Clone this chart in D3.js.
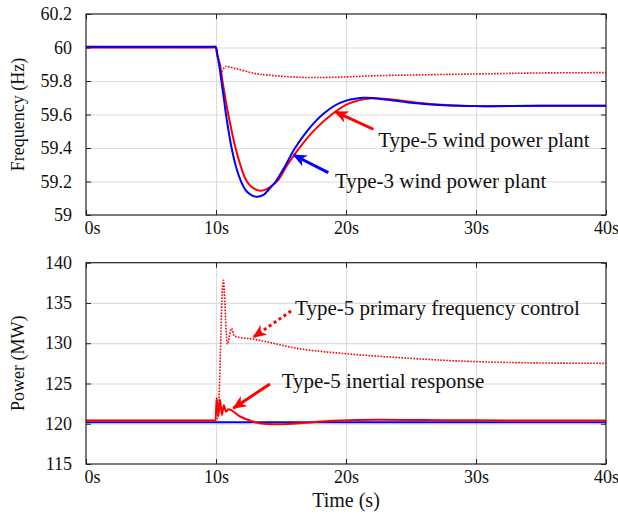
<!DOCTYPE html>
<html>
<head>
<meta charset="utf-8">
<script src="https://cdn.jsdelivr.net/npm/d3@7"></script>
<style>
body{margin:0;background:#fff;}
svg{display:block;}
svg text{font-family:"Liberation Serif","Times New Roman",serif !important;fill:#111;}
.grid line{stroke:#dcdcdc;stroke-width:1.2;}
.grid path{display:none;}
.tick text{font-size:18px;}
</style>
</head>
<body>
<div id="chart"></div>
<script>
// ------- DATA (time in s) -------
let timeTicks=[0,10,20,30,40];
let freqTicks=[59,59.2,59.4,59.6,59.8,60,60.2];
let powerTicks=[115,120,125,130,135,140];

// frequency, Hz
let freqType3=[[0,60.005],[3,60.005],[6,60.005],[9,60.005],[9.8,60.005],[9.97,60.005],[10.1,59.96],[10.2,59.92],[10.45,59.78],[10.62,59.687],[10.77,59.6],[11.2,59.4],[11.55,59.285],[11.9,59.205],[12.25,59.152],[12.6,59.125],[13.13,59.109],[13.65,59.12],[13.9,59.138],[14.15,59.16],[14.6,59.2],[15.3,59.29],[16.08,59.4],[17.1,59.51],[18.2,59.6],[19.5,59.668],[21.3,59.7],[23,59.69],[25,59.67],[27.5,59.655],[30,59.65],[35,59.652],[40,59.652]];
let freqType5=[[0,60.0],[3,60.0],[6,60.0],[9,60.0],[9.8,60.0],[9.97,60.0],[10.1,59.95],[10.2,59.925],[10.3,59.9],[10.55,59.775],[10.95,59.6],[11.5,59.4],[11.95,59.28],[12.3,59.21],[12.7,59.17],[13.38,59.145],[13.9,59.155],[14.3,59.175],[14.8,59.21],[15.5,59.3],[16.46,59.405],[17.6,59.51],[18.9,59.6],[20.2,59.665],[22,59.697],[23.5,59.69],[25.5,59.67],[28,59.655],[30,59.65],[35,59.652],[40,59.652]];
let freqType5PFC=[[0,60.0],[3,60.0],[6,60.0],[9,60.0],[9.8,60.0],[9.97,60.0],[10.1,59.95],[10.2,59.9],[10.4,59.852],[10.55,59.87],[10.74,59.886],[11.5,59.874],[13,59.845],[14,59.835],[16.5,59.822],[19,59.822],[22.6,59.832],[30,59.842],[35,59.848],[40,59.85]];

// power, MW
let powerType3=[[0,120.2],[10,120.2],[20,120.2],[30,120.2],[40,120.2]];
let powerInertial=[[0,120.4],[9.97,120.4],[10.05,123.2],[10.18,120.9],[10.3,123.0],[10.46,121.1],[10.6,122.3],[10.77,121.5],[10.95,121.8],[11.85,120.9],[12.87,120.25],[13.9,119.96],[15,119.95],[16.46,120.05],[19,120.37],[22.6,120.5],[26,120.45],[30,120.42],[40,120.4]];
let powerPFC=[[0,120.4],[10,120.4],[10.15,121],[10.56,137.8],[10.87,129.9],[11.2,131.85],[11.4,130.9],[11.6,130.8],[12.87,130.5],[16.46,129.3],[20,128.7],[24.15,128.2],[29.3,127.75],[35,127.55],[40,127.5]];

// annotations: [label, textT, textV, arrowFromT, arrowFromV, arrowToT, arrowToV, color, dotted]
let freqNotes=[
	["Type-5 wind power plant",22.48,59.408,22.1,59.512,19.15,59.617,"red",false],
	["Type-3 wind power plant",19.15,59.159,18.64,59.253,15.96,59.358,"blue",false]
];
let powerNotes=[
	["Type-5 primary frequency control",16.08,133.5,15.77,134.0,12.87,130.74,"red",true],
	["Type-5 inertial response",15.05,124.4,14.15,124.94,11.33,121.92,"red",false]
];

let W=618,H=515;
let left=86,right=606;

let svg=d3.select("#chart").append("svg")
	.attr("width",W)
	.attr("height",H);

let defs=svg.append("defs");
["red","blue"].forEach(function(c){
	defs.append("marker")
		.attr("id","head-"+c)
		.attr("viewBox","0 0 14 12")
		.attr("refX",13).attr("refY",6)
		.attr("markerWidth",14).attr("markerHeight",12)
		.attr("markerUnits","userSpaceOnUse")
		.attr("orient","auto")
		.append("path")
			.attr("d","M0,0 L14,6 L0,12 L4,6 Z")
			.attr("fill",c);
});

let x=d3.scaleLinear().domain([0,40]).range([left,right]);

function panel(yDomain,yRange,yTicks,yFmt,series,notes,yLabel,curve){
	let y=d3.scaleLinear().domain(yDomain).range(yRange);
	let top=yRange[1],bottom=yRange[0],h=bottom-top,w=right-left;
	let g=svg.append("g");

	// grid
	g.append("g").attr("class","grid")
		.attr("transform","translate(0,"+bottom+")")
		.call(d3.axisBottom(x).tickValues(timeTicks.slice(1,-1)).tickSize(-h).tickFormat(""));
	g.append("g").attr("class","grid")
		.attr("transform","translate("+left+",0)")
		.call(d3.axisLeft(y).tickValues(yTicks.slice(1,-1)).tickSize(-w).tickFormat(""));

	// lines
	let line=d3.line().x(d=>x(d[0])).y(d=>y(d[1])).curve(curve);
	series.forEach(function(s){
		g.append("path")
			.datum(s.data)
			.attr("fill","none")
			.attr("stroke",s.color)
			.attr("stroke-width",s.dotted?1.6:2)
			.attr("stroke-dasharray",s.dotted?"1.6,1.4":null)
			.attr("d",line);
	});

	// frame with inward ticks
	g.append("rect")
		.attr("x",left).attr("y",top).attr("width",w).attr("height",h)
		.attr("fill","none").attr("stroke","#222").attr("stroke-width",1.2);

	let axL=g.append("g").attr("transform","translate("+left+",0)")
		.call(d3.axisLeft(y).tickValues(yTicks).tickSize(-5).tickPadding(14).tickFormat(yFmt));
	let axR=g.append("g").attr("transform","translate("+right+",0)")
		.call(d3.axisRight(y).tickValues(yTicks).tickSize(-5).tickFormat(""));
	let axB=g.append("g").attr("transform","translate(0,"+bottom+")")
		.call(d3.axisBottom(x).tickValues(timeTicks).tickSize(-5).tickPadding(6).tickFormat(d=>d+"s"));
	let axT=g.append("g").attr("transform","translate(0,"+top+")")
		.call(d3.axisTop(x).tickValues(timeTicks).tickSize(-5).tickFormat(""));
	[axL,axR,axB,axT].forEach(function(a){
		a.attr("font-family",null).attr("font-size",null);
		a.select(".domain").remove();
		a.selectAll(".tick line").attr("stroke","#222");
	});
	axB.selectAll(".tick text").filter(d=>d===0).attr("text-anchor","start").attr("dx",-2);

	// y label
	g.append("text")
		.attr("transform","rotate(-90)")
		.attr("x",-(top+bottom)/2)
		.attr("y",24)
		.attr("text-anchor","middle")
		.attr("font-size","18px")
		.text(yLabel);

	// annotations
	notes.forEach(function(n){
		g.append("line")
			.attr("x1",x(n[3])).attr("y1",y(n[4]))
			.attr("x2",x(n[5])).attr("y2",y(n[6]))
			.attr("stroke",n[7])
			.attr("stroke-width",3)
			.attr("stroke-dasharray",n[8]?"3,3":null)
			.attr("marker-end","url(#head-"+n[7]+")");
		g.append("text")
			.attr("x",x(n[1])).attr("y",y(n[2]))
			.attr("font-size","21px")
			.text(n[0]);
	});
	return y;
}

panel([59,60.2],[215,14],freqTicks,d=>d3.format("")(d),[
	{data:freqType5PFC,color:"red",dotted:true},
	{data:freqType5,color:"red"},
	{data:freqType3,color:"blue"}
],freqNotes,"Frequency (Hz)",d3.curveCatmullRom.alpha(0.5));

panel([115,140],[464,262.7],powerTicks,d=>d,[
	{data:powerType3,color:"blue"},
	{data:powerPFC,color:"red",dotted:true},
	{data:powerInertial,color:"red"}
],powerNotes,"Power (MW)",d3.curveMonotoneX);

svg.append("text")
	.attr("x",(left+right)/2)
	.attr("y",507)
	.attr("text-anchor","middle")
	.attr("font-size","20px")
	.text("Time (s)");
</script>
</body>
</html>
